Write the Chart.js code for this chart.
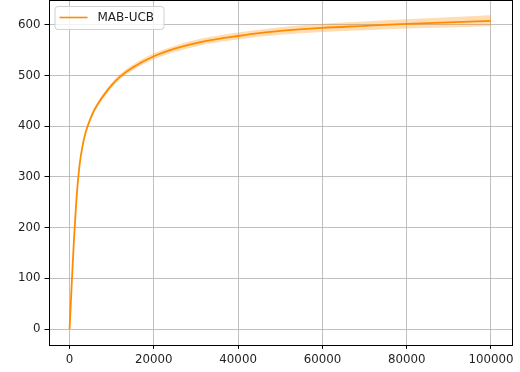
<!DOCTYPE html>
<html>
<head>
<meta charset="utf-8">
<script src="https://cdn.jsdelivr.net/npm/chart.js@4/dist/chart.umd.min.js"></script>
<style>
  html, body { margin: 0; padding: 0; background: #fff; }
  #wrap { width: 520px; height: 372px; position: relative; }
</style>
</head>
<body>
<div id="wrap"><canvas id="myChart"></canvas></div>
<script>
// steps (x) and mean cumulative regret
const steps = [0, 500, 1000, 1500, 2000, 2500, 3000, 3500, 4000, 5000, 6000, 7000, 8000, 10000, 12000, 15000,
   20000, 25000, 30000, 35000, 40000, 45000, 50000, 60000, 70000, 80000, 90000, 100000];
const regretMean = [0, 88, 170, 240, 294, 332, 358, 378, 393, 416, 434, 448, 460, 481, 498, 516,
   538, 553, 564, 572, 578, 583.5, 588, 594, 598, 602, 605, 608];
// half width of the shaded band
const bandHalf = [0, 1, 1.5, 2, 2.5, 3, 3, 3.5, 3.5, 4, 4, 4.5, 4.5, 5, 5, 5.5,
   6, 6, 6.5, 6.5, 7, 7, 7.5, 8, 8.5, 9, 10, 11];
const xTicks = [0, 20000, 40000, 60000, 80000, 100000];
const yTicks = [0, 100, 200, 300, 400, 500, 600];
const seriesName = 'MAB-UCB';

const lineColor = '#ff8c00';
const bandColor = 'rgba(255,140,0,0.3)';

const toPoints = (vals) => steps.map((x, i) => ({ x: x, y: vals[i] }));
const lower = regretMean.map((v, i) => v - bandHalf[i]);
const upper = regretMean.map((v, i) => v + bandHalf[i]);

const frame = {
   id: 'frame',
   afterDatasetsDraw(chart) {
      const { ctx, chartArea: a } = chart;
      ctx.save();
      ctx.strokeStyle = '#000';
      ctx.lineWidth = 1;
      ctx.strokeRect(Math.round(a.left) + 0.5, Math.round(a.top) + 0.5,
         Math.round(a.right - a.left), Math.round(a.bottom - a.top));
      ctx.restore();
   },
   afterDraw(chart) {
      // legend box inside the axes, upper left
      const { ctx, chartArea: a } = chart;
      const ds = chart.data.datasets[0];
      const x0 = a.left + 6, y0 = a.top + 6, w = 109, h = 23;
      ctx.save();
      ctx.fillStyle = 'rgba(255,255,255,0.8)';
      ctx.strokeStyle = '#d0d0d0';
      ctx.lineWidth = 1;
      ctx.beginPath();
      ctx.roundRect(x0 + 0.5, y0 + 0.5, w, h, 3);
      ctx.fill();
      ctx.stroke();
      ctx.strokeStyle = ds.borderColor;
      ctx.lineWidth = 1.6;
      ctx.beginPath();
      ctx.moveTo(x0 + 5, y0 + 11.5);
      ctx.lineTo(x0 + 33, y0 + 11.5);
      ctx.stroke();
      ctx.fillStyle = '#222';
      ctx.font = '12px "DejaVu Sans"';
      ctx.textBaseline = 'middle';
      ctx.fillText(ds.label, x0 + 43, y0 + 12);
      ctx.restore();
   }
};

const tickFont = { family: 'DejaVu Sans', size: 11.8 };

new Chart(document.getElementById('myChart'), {
   type: 'line',
   data: {
      datasets: [
         {
            label: seriesName,
            data: toPoints(regretMean),
            borderColor: lineColor,
            borderWidth: 1.8,
            pointRadius: 0,
            fill: false,
            cubicInterpolationMode: 'monotone'
         },
         {
            label: 'lower',
            data: toPoints(lower),
            borderWidth: 0,
            pointRadius: 0,
            fill: false,
            cubicInterpolationMode: 'monotone'
         },
         {
            label: 'upper',
            data: toPoints(upper),
            borderWidth: 0,
            pointRadius: 0,
            backgroundColor: bandColor,
            fill: '-1',
            cubicInterpolationMode: 'monotone'
         }
      ]
   },
   options: {
      responsive: true,
      maintainAspectRatio: false,
      animation: false,
      layout: { padding: { left: 14, right: 8, top: 0, bottom: 1 } },
      plugins: {
         legend: { display: false },
         tooltip: { enabled: false }
      },
      scales: {
         x: {
            type: 'linear',
            min: -5000,
            max: 105000,
            afterBuildTicks: (s) => { s.ticks = xTicks.map(v => ({ value: v })); },
            ticks: { font: tickFont, color: '#222', padding: 4, maxRotation: 0,
               callback: (v) => String(v) },
            grid: { color: '#b0b0b0', lineWidth: 0.8, tickLength: 4, tickColor: '#000', tickWidth: 1 },
            border: { display: false }
         },
         y: {
            type: 'linear',
            min: -31,
            max: 649,
            afterBuildTicks: (s) => { s.ticks = yTicks.map(v => ({ value: v })); },
            afterFit: (s) => { s.paddingTop = 0; s.paddingBottom = 0; },
            ticks: { font: tickFont, color: '#222', padding: 4,
               callback: (v) => String(v) },
            grid: { color: '#b0b0b0', lineWidth: 0.8, tickLength: 4, tickColor: '#000', tickWidth: 1 },
            border: { display: false }
         }
      }
   },
   plugins: [frame]
});
</script>
</body>
</html>
